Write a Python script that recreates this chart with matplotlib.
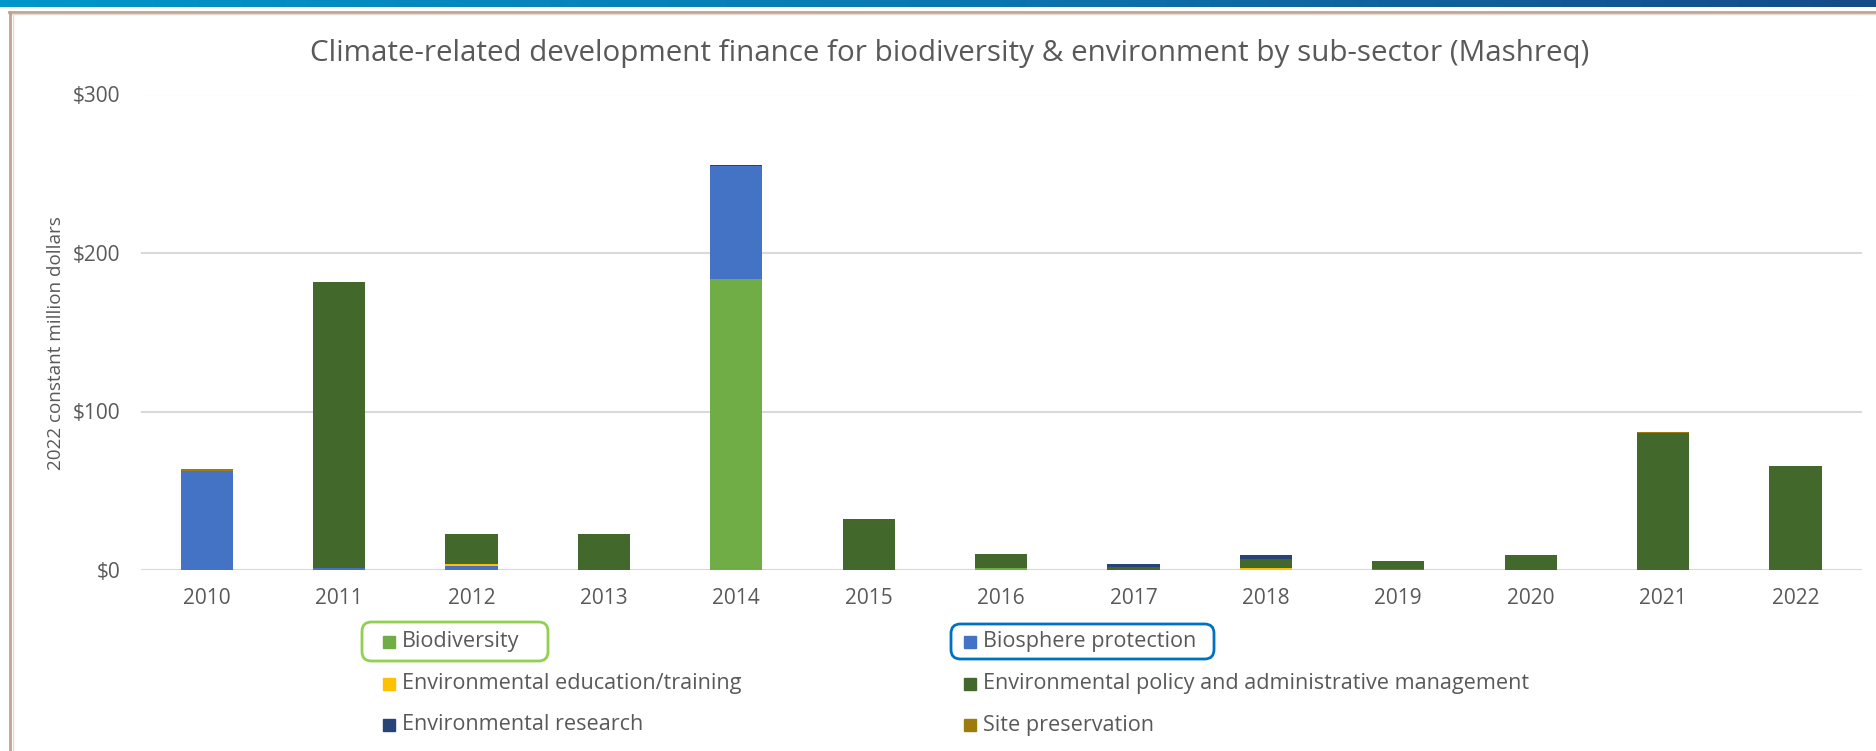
import numpy as np
import matplotlib
matplotlib.use("Agg")
import matplotlib.pyplot as plt
from matplotlib.patches import Rectangle, FancyBboxPatch
from matplotlib.lines import Line2D
from matplotlib.colors import LinearSegmentedColormap

plt.rcParams['font.family'] = ['Open Sans', 'DejaVu Sans']

# ---- data (2022 constant million USD) ----
years = ["2010", "2011", "2012", "2013", "2014", "2015", "2016",
         "2017", "2018", "2019", "2020", "2021", "2022"]
biodiversity = [0, 0, 0, 0, 183.5, 0, 1.5, 0, 0, 0, 0, 0, 0]
biosphere = [62.5, 1.0, 2.8, 0, 71.5, 0, 0, 0, 0, 0.7, 0, 0, 0]
education = [0, 0, 0.7, 0, 0, 0, 0, 0, 1.0, 0, 0, 0, 0]
policy = [0, 181.0, 19.0, 22.5, 0, 32.0, 8.5, 2.0, 5.9, 4.8, 9.7, 86.6, 65.4]
research = [0, 0, 0.4, 0.5, 0.3, 0.4, 0, 1.5, 2.3, 0, 0, 0, 0.4]
site = [1.5, 0, 0, 0, 0, 0, 0, 0, 0, 0, 0, 0.5, 0]

series_names = ["Biodiversity", "Biosphere protection",
                "Environmental education/training",
                "Environmental policy and administrative management",
                "Environmental research", "Site preservation"]
series_values = [biodiversity, biosphere, education, policy, research, site]
series_colors = ["#70AD47", "#4472C4", "#FFC000", "#43682B", "#264478", "#9E7C0C"]

y_ticks = [0, 100, 200, 300]
y_tick_labels = ["$0", "$100", "$200", "$300"]

TXT = "#595959"
W, H = 1876, 751
fig = plt.figure(figsize=(W / 100, H / 100), dpi=100)

def fx(px):
    return px / W

def fy(py):
    return 1 - py / H

# ---- plot area ----
ax = fig.add_axes([fx(140.5), fy(570), fx(1861.7) - fx(140.5), fy(94.5) - fy(570)])
x = np.arange(len(years))
bottom = np.zeros(len(years))
for name, vals, col in zip(series_names, series_values, series_colors):
    v = np.array(vals, dtype=float)
    ax.bar(x, v, width=0.395, bottom=bottom, color=col, label=name, zorder=3)
    bottom += v

ax.set_xlim(-0.5, len(years) - 0.5)
ax.set_ylim(0, 300)
ax.set_yticks(y_ticks)
ax.set_yticklabels(y_tick_labels)
ax.set_xticks(x)
ax.set_xticklabels(years)
ax.tick_params(axis='both', length=0, labelsize=15, colors=TXT)
ax.tick_params(axis='y', pad=14.5)
ax.tick_params(axis='x', pad=13)
for s in ax.spines.values():
    s.set_visible(False)
ax.yaxis.grid(True, color="#D9D9D9", linewidth=1.5, zorder=0)
ax.set_axisbelow(True)

fig.text(fx(56), fy(343), "2022 constant million dollars", rotation=90,
         ha='center', va='center', fontsize=13.6, color=TXT)

fig.text(fx(950), fy(54), "Climate-related development finance for biodiversity & "
         "environment by sub-sector (Mashreq)", ha='center', va='center',
         fontsize=21.3, color=TXT)

# ---- legend ----
col_x = [383.0, 964.0]
row_y = [642.0, 684.0, 725.0]
sq = 12
for i, (name, col) in enumerate(zip(series_names, series_colors)):
    cx = col_x[i % 2]
    cy = row_y[i // 2]
    fig.patches.append(Rectangle((fx(cx), fy(cy + sq / 2)), fx(sq), sq / H,
                                 transform=fig.transFigure, color=col))
    fig.text(fx(cx + 19), fy(cy), name, ha='left', va='center',
             fontsize=15.6, color=TXT)

# highlight boxes around two legend entries
for (x0, y0, x1, y1, ec) in [(362, 622, 548, 661, "#92D050"),
                             (951, 624, 1214, 659, "#0070C0")]:
    fig.patches.append(FancyBboxPatch((fx(x0), fy(y1)), fx(x1 - x0), (y1 - y0) / H,
                                      boxstyle="round,pad=0,rounding_size=0.005",
                                      transform=fig.transFigure, fill=False,
                                      edgecolor=ec, linewidth=2,
                                      mutation_aspect=W / H))

# ---- page decoration: gradient banner and frame lines ----
band = fig.add_axes([0, fy(7), 1, 7 / H])
cmap = LinearSegmentedColormap.from_list("band", ["#0097CA", "#0A78B2", "#154B89"])
band.imshow(np.linspace(0, 1, 512)[None, :], aspect='auto', cmap=cmap,
            extent=[0, 1, 0, 1])
band.set_axis_off()

fig.add_artist(Line2D([fx(9), 1], [fy(12), fy(12)], transform=fig.transFigure,
                      color="#BFA393", linewidth=2))
fig.add_artist(Line2D([fx(9), 1], [fy(14), fy(14)], transform=fig.transFigure,
                      color="#E6D9D0", linewidth=1))
fig.add_artist(Line2D([fx(10), fx(10)], [fy(12), 0], transform=fig.transFigure,
                      color="#BFA393", linewidth=2))
fig.add_artist(Line2D([fx(12.5), fx(12.5)], [fy(14), 0], transform=fig.transFigure,
                      color="#E6D9D0", linewidth=1))

fig.savefig("out.png", dpi=100)
